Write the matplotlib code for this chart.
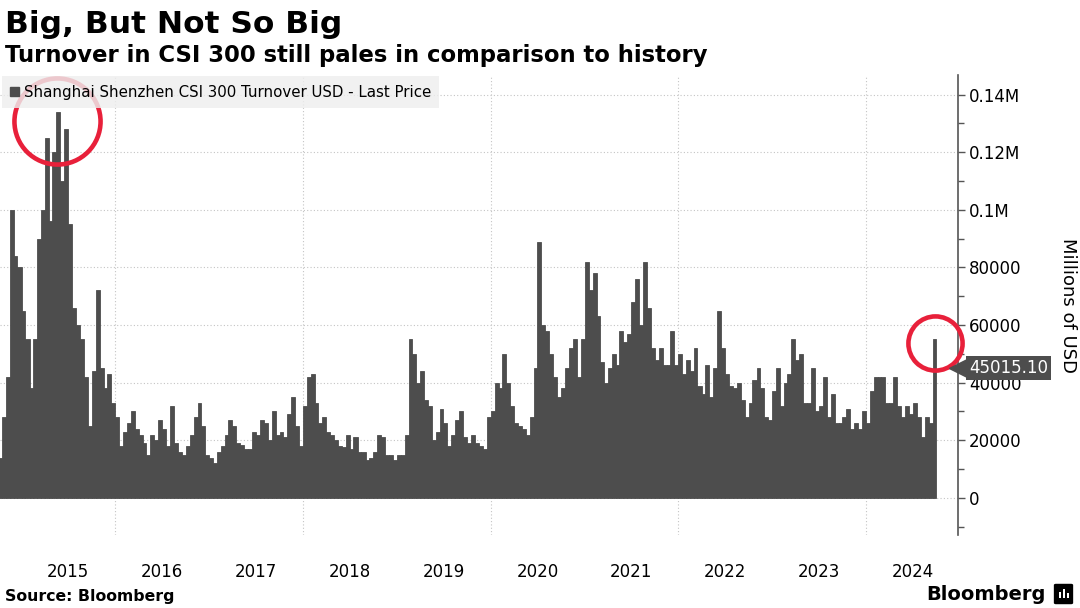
import matplotlib
matplotlib.use("Agg")
import matplotlib.pyplot as plt
import matplotlib.dates as mdates
from matplotlib.patches import Patch, FancyBboxPatch, Rectangle
from matplotlib.ticker import FuncFormatter, MultipleLocator
import pandas as pd

# half-month turnover (millions of USD)
turnover_2014 = [14000, 28000, 42000, 100000, 84000, 80000]  # Oct-Dec
turnover_2015 = [65000, 55000, 38000, 55000, 90000, 100000, 125000, 96000,
                 120000, 134000, 110000, 128000, 95000, 66000, 60000, 55000,
                 42000, 25000, 44000, 72000, 45000, 38000, 43000, 33000]
turnover_2016 = [28000, 18000, 23000, 26000, 30000, 24000, 22000, 19000,
                 15000, 22000, 20000, 27000, 24000, 18000, 32000, 19000,
                 16000, 15000, 18000, 22000, 28000, 33000, 25000, 15000]
turnover_2017 = [14000, 12000, 16000, 18000, 22000, 27000, 25000, 19000,
                 18500, 17000, 17000, 23000, 22000, 27000, 26000, 20000,
                 30000, 22000, 23000, 21000, 29000, 35000, 25000, 18000]
turnover_2018 = [32000, 42000, 43000, 33000, 26000, 28000, 23000, 22000,
                 20000, 18000, 17500, 22000, 17000, 21000, 16000, 16000,
                 13000, 14000, 16000, 22000, 21000, 15000, 15000, 13000]
turnover_2019 = [15000, 15000, 22000, 55000, 50000, 40000, 44000, 34000,
                 32000, 20000, 23000, 31000, 26000, 18000, 22000, 27000,
                 30000, 21000, 19000, 22000, 19000, 18000, 17000, 28000]
turnover_2020 = [30000, 40000, 38000, 50000, 40000, 32000, 26000, 25000,
                 24000, 22000, 28000, 45000, 89000, 60000, 58000, 50000,
                 42000, 35000, 38000, 45000, 52000, 55000, 42000, 55000]
turnover_2021 = [82000, 72000, 78000, 63000, 47000, 40000, 45000, 50000,
                 46000, 58000, 54000, 57000, 68000, 76000, 60000, 82000,
                 66000, 52000, 48000, 52000, 46000, 46000, 58000, 46000]
turnover_2022 = [50000, 43000, 48000, 44000, 52000, 39000, 36000, 46000,
                 35000, 45000, 65000, 52000, 43000, 39000, 38000, 40000,
                 34000, 28000, 33000, 41000, 45000, 38000, 28000, 27000]
turnover_2023 = [37000, 45000, 32000, 40000, 43000, 55000, 48000, 50000,
                 33000, 33000, 45000, 30000, 32000, 42000, 28000, 36000,
                 26000, 26000, 28000, 31000, 24000, 26000, 24000, 30000]
turnover_2024 = [26000, 37000, 42000, 42000, 42000, 33000, 33000, 42000,
                 32000, 28000, 32000, 29000, 33000, 28000, 21000, 28000,
                 26000, 55000]  # Jan-Sep
last_price = 45015.10

turnover = (turnover_2014 + turnover_2015 + turnover_2016 + turnover_2017 +
            turnover_2018 + turnover_2019 + turnover_2020 + turnover_2021 +
            turnover_2022 + turnover_2023 + turnover_2024)
months = pd.date_range("2014-10-01", "2024-10-01", freq="MS")
edges = []
for m in months:
    edges.append(m)
    edges.append(m + pd.Timedelta(days=15))
edges = edges[:len(turnover) + 1]
dates = edges[:-1]
widths = [(b - a).days for a, b in zip(edges[:-1], edges[1:])]

BAR = "#4d4d4d"
RED = "#e8203a"

fig = plt.figure(figsize=(10.8, 6.08), dpi=100)
ax = fig.add_axes([0, 0.12, 0.887, 0.7566])

ax.bar(dates, turnover, width=widths, align="edge", color=BAR,
       edgecolor=BAR, linewidth=0.6, zorder=2)

ax.set_xlim(pd.Timestamp("2014-10-09"), pd.Timestamp("2024-12-24"))
ax.set_ylim(-12900, 146800)

# axes styling
for s in ["left", "top", "bottom"]:
    ax.spines[s].set_visible(False)
ax.spines["right"].set_color("#555555")
ax.spines["right"].set_linewidth(1.2)
ax.yaxis.tick_right()
ax.yaxis.set_major_locator(MultipleLocator(20000))
ax.yaxis.set_minor_locator(MultipleLocator(10000))
ax.yaxis.set_major_formatter(FuncFormatter(
    lambda v, p: f"{v / 1e6:g}M" if v >= 100000 else f"{int(v)}"))
ax.tick_params(axis="y", which="major", length=5, width=1, color="#555555",
               labelsize=12, pad=3)
ax.tick_params(axis="y", which="minor", length=4, width=1, color="#555555")

ax.xaxis.set_major_locator(mdates.YearLocator(2))
ax.xaxis.set_major_formatter(plt.NullFormatter())
ax.xaxis.set_minor_locator(mdates.MonthLocator(bymonth=7))
ax.xaxis.set_minor_formatter(mdates.DateFormatter("%Y"))
ax.tick_params(axis="x", which="both", length=0, labelsize=12, pad=20)

ax.set_axisbelow(True)
ax.grid(True, which="major", axis="both", color="#c4c4c4", lw=0.8,
        linestyle=(0, (1, 2)))

fig.text(1068 / 1080, 1 - 305 / 608, "Millions of USD", rotation=-90,
         fontsize=13, ha="center", va="center")

# legend
leg = ax.legend(handles=[Patch(color=BAR)],
                labels=["Shanghai Shenzhen CSI 300 Turnover USD - Last Price"],
                loc="upper left", bbox_to_anchor=(0.002, 0.997), borderaxespad=0,
                fontsize=10.8, handlelength=0.6, handleheight=0.6, handletextpad=0.3,
                borderpad=0.55, fancybox=False, frameon=True, framealpha=0.82)
leg.get_frame().set_facecolor("#eeeeee")
leg.get_frame().set_edgecolor("none")
leg.set_zorder(6)

# highlight circles
ax.plot([pd.Timestamp("2015-05-20")], [130900], marker="o", ms=62, mfc="none",
        mec=RED, mew=3.3, clip_on=False, zorder=5)
ax.plot([pd.Timestamp("2024-09-25")], [53600], marker="o", ms=39, mfc="none",
        mec=RED, mew=3.3, clip_on=False, zorder=5)

# last price tag
ax.annotate(f"{last_price:.2f}", xy=(1.0, last_price),
            xycoords=("axes fraction", "data"), xytext=(8, 0),
            textcoords="offset points", ha="left", va="center",
            color="white", fontsize=12, zorder=8, annotation_clip=False,
            bbox=dict(boxstyle="square,pad=0.18", fc=BAR, ec="none"))
ax.plot([1.0], [last_price], marker="<", ms=13, color=BAR,
        transform=ax.get_yaxis_transform(), clip_on=False, zorder=7)

# titles and footer
fig.text(0.005, 1 - 33 / 608, "Big, But Not So Big", fontsize=22.5,
         fontweight="bold", va="baseline")
fig.text(0.005, 1 - 62 / 608, "Turnover in CSI 300 still pales in comparison to history",
         fontsize=16.4, fontweight="bold", va="baseline")
fig.text(0.005, 1 - 601 / 608, "Source: Bloomberg", fontsize=11.3, fontweight="bold",
         va="baseline")
fig.text(1046 / 1080, 1 - 600 / 608, "Bloomberg", fontsize=14, fontweight="bold",
         va="baseline", ha="right")
fig.patches.append(FancyBboxPatch((1056 / 1080, 1 - 603 / 608), 15 / 1080, 18 / 608,
                                  boxstyle="round,pad=0.002", fc="black", ec="none",
                                  transform=fig.transFigure, figure=fig))
for i, h in enumerate([6, 9, 5]):
    fig.patches.append(Rectangle(((1059 + i * 4) / 1080, 1 - 598 / 608), 2 / 1080, h / 608,
                                 fc="white", ec="none", transform=fig.transFigure,
                                 figure=fig))

fig.savefig("out.png", dpi=100)
